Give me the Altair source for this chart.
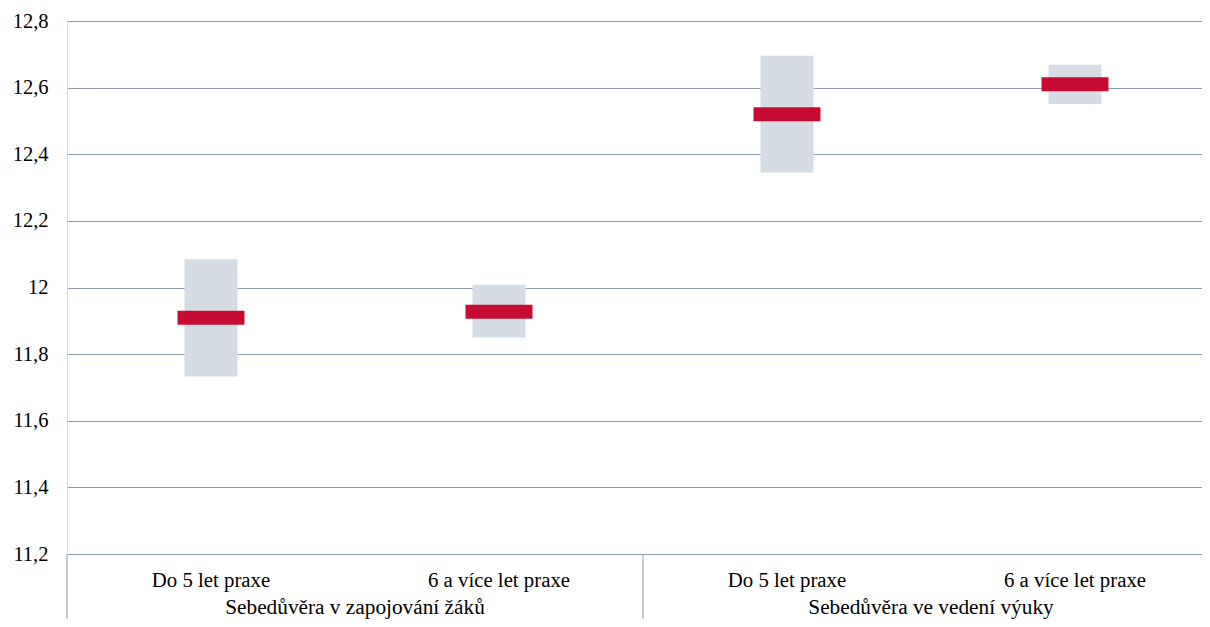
import altair as alt
import pandas as pd

# ---- data ----
groups = ["Sebedůvěra v zapojování žáků", "Sebedůvěra v zapojování žáků",
          "Sebedůvěra ve vedení výuky", "Sebedůvěra ve vedení výuky"]
experience = ["Do 5 let praxe", "6 a více let praxe", "Do 5 let praxe", "6 a více let praxe"]
lower = [11.733, 11.850, 12.345, 12.551]
upper = [12.085, 12.008, 12.696, 12.669]
mean = [11.909, 11.927, 12.520, 12.610]
y_ticks = [11.2, 11.4, 11.6, 11.8, 12.0, 12.2, 12.4, 12.6, 12.8]
group_names = ["Sebedůvěra v zapojování žáků", "Sebedůvěra ve vedení výuky"]

keys = [f"{g}|{e}" for g, e in zip(groups, experience)]
df = pd.DataFrame({"key": keys, "group": groups, "exp": experience,
                   "lo": lower, "hi": upper, "mean": mean})
# first category of each group (for separators and group-label centring)
gdf = pd.DataFrame({
    "name": group_names,
    "first": [keys[groups.index(g)] for g in group_names],
})

FONT = "Liberation Serif"
GRID = "#8E9DB6"
W, H = 1135, 533

xscale = alt.Scale(domain=keys, range=[0, 1152], paddingInner=0, paddingOuter=0)
yscale = alt.Scale(domain=[11.2, 12.8], nice=False, zero=False)
x = alt.X("key:N", scale=xscale, axis=None)

yaxis = alt.Axis(values=y_ticks, title=None, grid=True, gridColor=GRID, gridWidth=1,
                 domain=False, ticks=False, labelFont=FONT, labelFontSize=20.5,
                 labelColor="#000000", labelPadding=19,
                 labelExpr="replace(format(datum.value, '.2~f'), '.', ',')")

base = alt.Chart(df)

boxes = base.mark_bar(color="#D6DCE4", width=53).encode(
    x=x,
    y=alt.Y("lo:Q", scale=yscale, axis=yaxis),
    y2="hi:Q",
)

means = base.mark_tick(color="#C60C30", thickness=14, size=67, opacity=1).encode(
    x=x,
    y=alt.Y("mean:Q", scale=yscale),
)

cat_labels = base.mark_text(font=FONT, fontSize=20.8, color="#000000",
                            align="center", baseline="alphabetic").encode(
    x=x,
    y=alt.value(565.5),
    text="exp:N",
)

seps = alt.Chart(gdf).mark_rule(color=GRID, strokeWidth=1).encode(
    x=alt.X("first:N", scale=xscale, bandPosition=0, axis=None),
    y=alt.value(H),
    y2=alt.value(H + 120),
)

# group label centred on the boundary between the group's two categories
group_labels = alt.Chart(gdf).mark_text(
    font=FONT, fontSize=21.3, color="#000000", align="center", baseline="alphabetic"
).encode(
    x=alt.X("first:N", scale=xscale, bandPosition=1, axis=None),
    y=alt.value(593),
    text="name:N",
)

chart = alt.layer(boxes, means, seps, cat_labels, group_labels).properties(
    width=W, height=H,
    autosize=alt.AutoSizeParams(type="none"),
    padding={"left": 59, "top": 13, "right": 0, "bottom": 65},
).configure_view(stroke=None).configure(background="white")

chart.save("out.html", embed_options={"renderer": "svg", "actions": False})
